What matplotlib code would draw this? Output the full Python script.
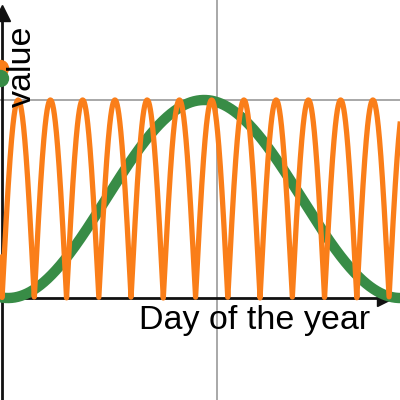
import numpy as np
import matplotlib.pyplot as plt

plt.rcParams['font.family'] = ['Liberation Sans', 'DejaVu Sans']

# values
days = np.linspace(-5, 372, 3000)
green_period = 365      # one full cycle over the year
green_peak_day = 188    # top of the green curve
orange_period = 30      # one hump per ~month
peak_value = 1.0
grid_day = 200
grid_value = 1.0
x_label = "Day of the year"
y_label = "value"

green_vals = peak_value * (1 + np.cos(2 * np.pi * (days - green_peak_day) / green_period)) / 2
orange_vals = peak_value * np.abs(np.sin(np.pi * days / orange_period))

green = '#388c46'
orange = '#fa7e19'

fig = plt.figure(figsize=(4, 4), dpi=100)
ax = fig.add_axes([0, 0, 1, 1])
ax.set_xlim(-1.9, 370.2)
ax.set_ylim(-0.515, 1.505)
ax.axis('off')

# grid
ax.axvline(grid_day, color='#999999', lw=1.2, zorder=1)
ax.axhline(grid_value, color='#999999', lw=1.2, zorder=1)

# axes with arrows
ax.plot([-5, 356], [0, 0], color='#111111', lw=2, zorder=2)
ax.plot([356], [0], marker='>', ms=12, color='#111111', zorder=2)
ax.plot([0, 0], [-0.6, 1.44], color='#111111', lw=2, zorder=2)
ax.plot([0], [1.44], marker='^', ms=12, color='#111111', zorder=2)

ax.plot(days, green_vals, color=green, lw=7.5, zorder=3)
ax.plot(days, orange_vals, color=orange, lw=3.8, zorder=4)

ax.plot([-2], [1.16], 'o', ms=11.5, color=orange, zorder=5, clip_on=False)
ax.plot([-2], [1.11], 'o', ms=11.5, color=green, zorder=6, clip_on=False)

ax.text(342.5, -0.157, x_label, ha='right', va='baseline', fontsize=24.5, zorder=7)
ax.text(18.5, 1.17, y_label, ha='center', va='center', rotation=90, fontsize=24.5, zorder=7)

fig.savefig('out.png', dpi=100)
